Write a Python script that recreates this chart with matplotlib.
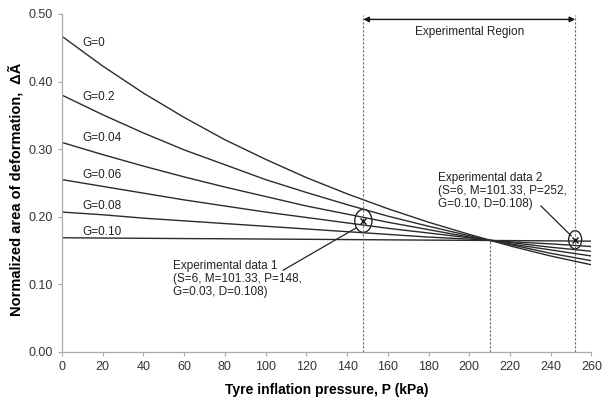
import matplotlib
matplotlib.use("Agg")
import matplotlib.pyplot as plt
from matplotlib.patches import Ellipse
import numpy as np

plt.rcParams['font.family'] = ['Liberation Sans', 'DejaVu Sans']

# tyre inflation pressure (kPa)
pressure = [0, 20, 40, 60, 80, 100, 120, 140, 160, 180, 200, 220, 240, 260]

# normalized area of deformation, one curve per G
g_labels = ["G=0", "G=0.2", "G=0.04", "G=0.06", "G=0.08", "G=0.10"]
area_g0 = [0.467, 0.423, 0.383, 0.347, 0.314, 0.285, 0.258, 0.234, 0.212, 0.192, 0.174, 0.157, 0.142, 0.129]
area_g02 = [0.380, 0.351, 0.324, 0.299, 0.277, 0.255, 0.236, 0.218, 0.201, 0.186, 0.172, 0.159, 0.146, 0.135]
area_g004 = [0.310, 0.292, 0.275, 0.259, 0.244, 0.230, 0.216, 0.204, 0.192, 0.181, 0.170, 0.160, 0.151, 0.142]
area_g006 = [0.255, 0.245, 0.235, 0.225, 0.216, 0.207, 0.199, 0.191, 0.183, 0.176, 0.169, 0.162, 0.155, 0.149]
area_g008 = [0.207, 0.203, 0.198, 0.194, 0.190, 0.186, 0.182, 0.178, 0.174, 0.170, 0.167, 0.163, 0.160, 0.156]
area_g010 = [0.169, 0.1686, 0.1682, 0.1678, 0.1675, 0.1671, 0.1667, 0.1663, 0.1659, 0.1655, 0.1652, 0.1648, 0.1644, 0.164]
curves = [area_g0, area_g02, area_g004, area_g006, area_g008, area_g010]
label_y = [0.457, 0.377, 0.316, 0.262, 0.216, 0.178]

# experimental points and region limits
exp_p = [148, 252]
exp_a = [0.194, 0.166]
cross_p = 210
cross_a = 0.165

fig = plt.figure(figsize=(6.1, 4.0), dpi=100)
ax = fig.add_axes([0.1016, 0.12, 0.868, 0.845])

for ys in curves:
    ax.plot(pressure, ys, color='#2b2b2b', lw=1.0)

for lab, yl in zip(g_labels, label_y):
    ax.text(9.8, yl, lab, fontsize=8.5, color='#222222', va='center', ha='left')

# dashed region lines
dash = dict(color='#666666', lw=0.8, linestyle=(0, (2, 1.6)))
ax.plot([exp_p[0], exp_p[0]], [0, 0.499], **dash)
ax.plot([exp_p[1], exp_p[1]], [0, 0.499], **dash)
ax.plot([cross_p, cross_p], [0, cross_a], **dash)

ax.annotate('', xy=(exp_p[0], 0.492), xytext=(exp_p[1], 0.492),
            arrowprops=dict(arrowstyle='<|-|>', color='#111111', lw=1.0,
                            mutation_scale=8, shrinkA=0, shrinkB=0))
ax.text(200, 0.473, 'Experimental Region', fontsize=8.5, ha='center', va='center', color='#222222')

# experimental markers
ax.plot(exp_p, exp_a, 'x', color='#111111', ms=5, mew=1.0)
ax.add_patch(Ellipse((exp_p[0], exp_a[0]), 8.4, 0.034, fill=False, ec='#111111', lw=0.9))
ax.add_patch(Ellipse((exp_p[1], exp_a[1]), 6.4, 0.027, fill=False, ec='#111111', lw=0.9))

ax.plot([108.6, 144.4], [0.121, 0.1834], color='#222222', lw=0.9)
ax.plot([235.2, 250.0], [0.216, 0.172], color='#222222', lw=0.9)

ax.text(54.5, 0.108, 'Experimental data 1\n(S=6, M=101.33, P=148,\nG=0.03, D=0.108)',
        fontsize=8.5, ha='left', va='center', color='#222222', linespacing=1.15)
ax.text(184.8, 0.238, 'Experimental data 2\n(S=6, M=101.33, P=252,\nG=0.10, D=0.108)',
        fontsize=8.5, ha='left', va='center', color='#222222', linespacing=1.15)

ax.set_xlim(0, 260)
ax.set_ylim(0, 0.5)
ax.set_xticks(np.arange(0, 261, 20))
ax.set_yticks(np.arange(0, 0.51, 0.1))
ax.set_yticklabels(['%.2f' % v for v in np.arange(0, 0.51, 0.1)])

for s in ['top', 'right']:
    ax.spines[s].set_visible(False)
for s in ['left', 'bottom']:
    ax.spines[s].set_color('#aaaaaa')
    ax.spines[s].set_linewidth(0.9)
ax.tick_params(colors='#aaaaaa', labelcolor='#333333', labelsize=9, length=3, width=0.8)

ax.set_xlabel('Tyre inflation pressure, P (kPa)', fontsize=10, fontweight='bold', labelpad=7)
ax.set_ylabel('Normalized area of deformation,  ΔÃ', fontsize=10.5, fontweight='bold')
ax.yaxis.set_label_coords(-0.072, 0.48)

fig.savefig('out.png', dpi=100)
